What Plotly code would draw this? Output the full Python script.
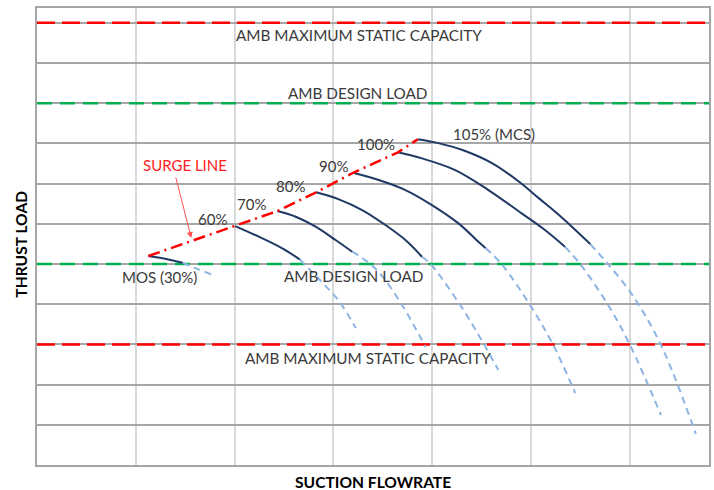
import plotly.graph_objects as go

# Compressor thrust-load map: constant-speed lines versus suction flowrate

speed_labels = ["MOS (30%)", "60%", "70%", "80%", "90%", "100%", "105% (MCS)"]

# Solid part of each speed line (stable operating region)
solid_x = [
    [1.127, 1.271, 1.473],
    [2.005, 2.281, 2.482, 2.658],
    [2.432, 2.618, 2.819, 3.021, 3.189],
    [2.825, 3.055, 3.290, 3.526, 3.728, 3.895],
    [3.199, 3.458, 3.728, 3.996, 4.265, 4.484, 4.538],
    [3.653, 3.895, 4.232, 4.568, 4.904, 5.140, 5.342],
    [3.852, 4.071, 4.306, 4.608, 4.878, 5.080, 5.282, 5.598],
]
solid_y = [
    [5.199, 5.142, 5.032],
    [5.945, 5.639, 5.391, 5.117],
    [6.318, 6.177, 5.928, 5.597, 5.306],
    [6.784, 6.609, 6.343, 5.970, 5.597, 5.182],
    [7.271, 7.090, 6.841, 6.468, 6.012, 5.515, 5.398],
    [7.779, 7.629, 7.338, 6.841, 6.261, 5.846, 5.430],
    [8.102, 8.002, 7.836, 7.505, 7.047, 6.634, 6.219, 5.498],
]

# Dashed extension of each speed line
ext_x = [
    [1.473, 1.608, 1.763],
    [2.658, 2.853, 3.055, 3.226],
    [3.189, 3.277, 3.458, 3.700, 3.932],
    [3.895, 3.983, 4.296, 4.498, 4.669],
    [4.538, 4.700, 5.002, 5.224, 5.446],
    [5.342, 5.496, 5.779, 6.001, 6.314],
    [5.598, 5.777, 6.011, 6.314, 6.667],
]
ext_y = [
    [5.032, 4.893, 4.744],
    [5.117, 4.627, 4.080, 3.408],
    [5.306, 5.174, 4.801, 3.955, 2.935],
    [5.182, 5.000, 3.930, 3.109, 2.363],
    [5.398, 5.000, 3.930, 2.985, 1.791],
    [5.430, 5.000, 3.980, 2.985, 1.244],
    [5.498, 5.000, 4.279, 2.985, 0.771],
]

# Bearing limits
max_static_capacity = [11.0, 3.0]
design_load = [9.0, 5.0]

# Axis extents
x_range = [0, 6.8]
y_range = [0, 11.37]

# Label anchor points for each speed line
speed_label_x = [1.238, 1.773, 2.167, 2.570, 3.004, 3.428, 4.629]
speed_label_y = [4.677, 6.119, 6.493, 6.940, 7.438, 7.985, 8.234]

limit_labels = [
    ("AMB MAXIMUM STATIC CAPACITY", 3.256, 10.70),
    ("AMB DESIGN LOAD", 3.246, 9.254),
    ("AMB DESIGN LOAD", 3.206, 4.701),
    ("AMB MAXIMUM STATIC CAPACITY", 3.347, 2.662),
]

NAVY = "#1f3864"
LIGHT_BLUE = "#8db4e2"
RED = "#ff0000"
GREEN = "#00b050"
TEXT = "#3a3a3a"
FONT = "Lato"

fig = go.Figure()

for lvl in max_static_capacity:
    fig.add_trace(go.Scatter(x=x_range, y=[lvl, lvl], mode="lines",
                             line=dict(color=RED, width=2.5, dash="18px,7px"),
                             hoverinfo="skip"))
for lvl in design_load:
    fig.add_trace(go.Scatter(x=x_range, y=[lvl, lvl], mode="lines",
                             line=dict(color=GREEN, width=2.5, dash="15px,8px"),
                             hoverinfo="skip"))

for xs, ys in zip(ext_x, ext_y):
    fig.add_trace(go.Scatter(x=xs, y=ys, mode="lines", line_shape="spline",
                             line=dict(color=LIGHT_BLUE, width=2, dash="7px,5px"),
                             hoverinfo="skip"))
for xs, ys in zip(solid_x, solid_y):
    fig.add_trace(go.Scatter(x=xs, y=ys, mode="lines", line_shape="spline",
                             line=dict(color=NAVY, width=2), hoverinfo="skip"))

# Surge line joins the left end of every speed line
surge_x = [xs[0] for xs in solid_x]
surge_y = [ys[0] for ys in solid_y]
fig.add_trace(go.Scatter(x=surge_x, y=surge_y, mode="lines",
                         line=dict(color=RED, width=2.5, dash="12px,5px,2px,5px"),
                         hoverinfo="skip"))

annotations = []
for txt, x, y in zip(speed_labels, speed_label_x, speed_label_y):
    annotations.append(dict(x=x, y=y, text=txt, showarrow=False,
                            font=dict(family=FONT, size=15, color=TEXT)))
for txt, x, y in limit_labels:
    annotations.append(dict(x=x, y=y, text=txt, showarrow=False,
                            font=dict(family=FONT, size=15.3, color=TEXT)))

annotations.append(dict(x=1.500, y=7.463, text="SURGE LINE", showarrow=False,
                        font=dict(family=FONT, size=15, color="#ff2020")))
annotations.append(dict(x=1.561, y=5.647, ax=1.401, ay=7.189, axref="x", ayref="y",
                        text="", showarrow=True, arrowhead=2, arrowsize=1.2,
                        arrowwidth=1, arrowcolor="#ff5050"))

annotations.append(dict(x=0.5, y=-0.037, xref="paper", yref="paper", text="<b>SUCTION FLOWRATE</b>",
                        showarrow=False, yanchor="middle",
                        font=dict(family=FONT, size=15.6, color="#000000")))
annotations.append(dict(x=-0.024, y=0.484, xref="paper", yref="paper", text="<b>THRUST LOAD</b>",
                        showarrow=False, textangle=-90, xanchor="center",
                        font=dict(family=FONT, size=15.6, color="#000000")))

fig.update_layout(
    width=714, height=490,
    margin=dict(l=37, r=3, t=8, b=25),
    paper_bgcolor="white", plot_bgcolor="white",
    showlegend=False,
    annotations=annotations,
    xaxis=dict(range=x_range, dtick=1, showgrid=True, gridcolor="#d9d9d9", gridwidth=2,
               zeroline=False, showticklabels=False, ticks="",
               showline=True, mirror=True, linecolor="#a6a6a6", linewidth=1.5),
    yaxis=dict(range=y_range, dtick=1, showgrid=True, gridcolor="#a6a6a6", gridwidth=1.5,
               zeroline=False, showticklabels=False, ticks="",
               showline=True, mirror=True, linecolor="#a6a6a6", linewidth=1.5),
)

fig.write_html("out.html")
